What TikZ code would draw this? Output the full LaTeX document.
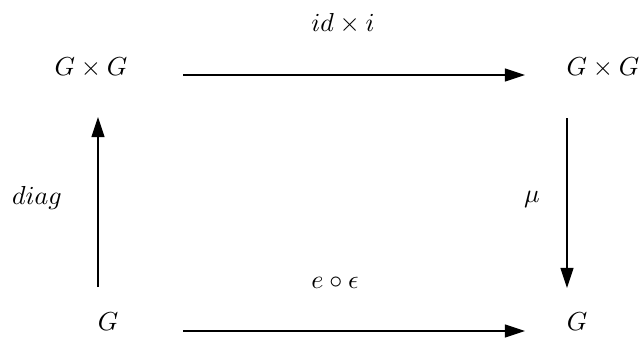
\documentclass[tikz,border=0pt]{standalone}
\usepackage{amsmath}
\usepackage{amssymb}
\usepackage{tikz}
\usetikzlibrary{arrows.meta}

\begin{document}
\begin{tikzpicture}[x=0.3846pt, y=-0.3846pt, every node/.style={inner sep=0pt, anchor=center}, map/.style={-{Triangle[length=7.7pt, width=5pt]}, line width=0.4pt}]
  \useasboundingbox (0,0) rectangle (642,338);
  \node (gg1) at (91,68) {$G \times G$};
  \node (gg2) at (603,68) {$G \times G$};
  \node (g1) at (108,322) {$G$};
  \node (g2) at (577,322) {$G$};
  \node (lidi) at (343,24) {$id \times i$};
  \node (leps) at (335,283) {$e \circ \epsilon$};
  \node (ldiag) at (37,198) {$diag$};
  \node (lmu) at (532,199) {$\mu$};
  \coordinate (t1) at (183,75);
  \coordinate (t2) at (525,75);
  \coordinate (b1) at (183,331);
  \coordinate (b2) at (525,331);
  \coordinate (l1) at (98,287);
  \coordinate (l2) at (98,117);
  \coordinate (r1) at (567,118);
  \coordinate (r2) at (567,288);
  \draw[map] (t1) -- (t2);
  \draw[map] (b1) -- (b2);
  \draw[map] (l1) -- (l2);
  \draw[map] (r1) -- (r2);
\end{tikzpicture}
\end{document}
